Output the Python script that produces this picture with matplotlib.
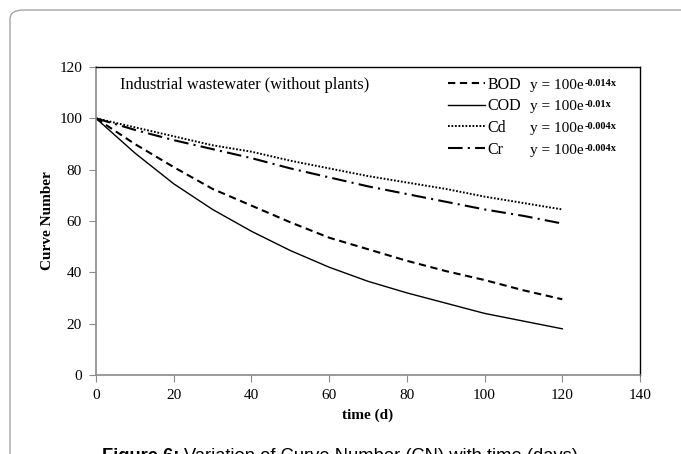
import matplotlib
matplotlib.use("Agg")
import matplotlib.pyplot as plt
from matplotlib.patches import FancyBboxPatch

# values
days = [0, 10, 20, 30, 40, 50, 60, 70, 80, 90, 100, 110, 120]
bod = [100, 90, 81, 72.5, 66, 59.5, 53.5, 49, 44.5, 40.5, 37, 33, 29.5]
cod = [100, 86.5, 74.5, 64.5, 56, 48.5, 42, 36.5, 32, 28, 24, 21, 18]
cd = [100, 96.5, 93, 89.5, 87, 83.5, 80.5, 77.5, 75, 72.5, 69.5, 67, 64.5]
cr = [100, 95.5, 91.5, 88, 84.5, 80.5, 77, 73.5, 70.5, 67.5, 64.5, 62, 59]

names = ["BOD", "COD", "Cd", "Cr"]
rates = ["-0.014x", "-0.01x", "-0.004x", "-0.004x"]
x_ticks = [0, 20, 40, 60, 80, 100, 120, 140]
y_ticks = [0, 20, 40, 60, 80, 100, 120]

plt.rcParams["font.family"] = ["Liberation Serif", "DejaVu Serif"]

W, H = 681, 454
fig = plt.figure(figsize=(W / 100, H / 100), dpi=100)

# outer rounded frame of the figure panel
frame = FancyBboxPatch((10 / W, -0.2), 1.2, 1.2 - 10 / H,
                       boxstyle="round,pad=0,rounding_size=0.02",
                       transform=fig.transFigure, fill=False,
                       edgecolor="#9a9a9a", linewidth=0.9)
fig.patches.append(frame)

ax = fig.add_axes([96 / W, 1 - 375 / H, (640 - 96) / W, (375 - 67) / H])

ax.plot(days, bod, color="black", lw=1.5, dashes=(3.5, 2.2), label=names[0])
ax.plot(days, cod, color="black", lw=1.0, label=names[1])
ax.plot(days, cd, color="black", lw=1.4, dashes=(0.9, 0.9), label=names[2])
ax.plot(days, cr, color="black", lw=1.5, dashes=(7, 2.5, 1, 2.5), label=names[3])

ax.set_xlim(0, 140)
ax.set_ylim(0, 120)
ax.set_xticks(x_ticks)
ax.set_yticks(y_ticks)
ax.tick_params(direction="out", length=5, width=0.8, color="#8a8a8a",
               labelsize=11, pad=5)

for s in ["left", "bottom"]:
    ax.spines[s].set_color("#8a8a8a")
    ax.spines[s].set_linewidth(1.2)
for s in ["top", "right"]:
    ax.spines[s].set_color("black")
    ax.spines[s].set_linewidth(1.0)

ax.set_xlabel("time (d)", fontsize=11, fontweight="bold", labelpad=5)
ax.set_ylabel("Curve Number", fontsize=11, fontweight="bold", labelpad=4)

ax.text(0.044, 0.942, "Industrial wastewater (without plants)",
        transform=ax.transAxes, fontsize=11.8, va="center", ha="left")

ax.legend(loc="upper left", bbox_to_anchor=(0.647, 0.969), frameon=False,
          fontsize=11.5, handlelength=2.3, handletextpad=0.15,
          labelspacing=0.36, borderpad=0, borderaxespad=0)

eq_y = [0.94, 0.872, 0.8, 0.729]
for yy, r in zip(eq_y, rates):
    t = ax.text(0.798, yy, "y = 100e", transform=ax.transAxes,
                fontsize=11, va="center", ha="left")
    ax.annotate(r, xy=(1, 1), xycoords=t, xytext=(0.3, 0),
                textcoords="offset points", fontsize=7.5,
                fontweight="bold", va="top", ha="left")

# caption, cut off by the bottom edge as in the source image
cap_font = ["Liberation Sans", "DejaVu Sans"]
c1 = fig.text(102 / W, 1 - 461 / H, "Figure 6:", family=cap_font,
              fontsize=13.2, fontweight="bold", ha="left", va="baseline")
fig.canvas.draw()
bb = c1.get_window_extent()
fig.text((bb.x1 + 5) / W, 1 - 461 / H,
         "Variation of Curve Number (CN) with time (days)",
         family=cap_font, fontsize=13.2, ha="left", va="baseline")

fig.savefig("out.png", dpi=100)
